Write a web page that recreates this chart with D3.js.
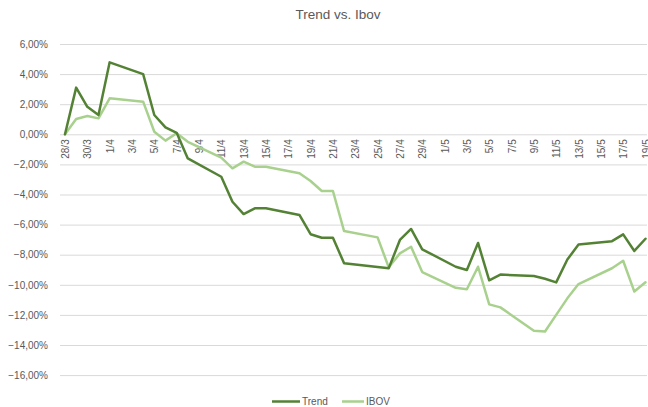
<!DOCTYPE html>
<html><head><meta charset="utf-8">
<script src="https://cdn.jsdelivr.net/npm/d3@7"></script>
<style>body{margin:0;background:#fff}svg{display:block}</style>
</head><body>
<svg id="chart" width="648" height="407"></svg>
<script>
const dates = ["2022-03-28","2022-03-29","2022-03-30","2022-03-31","2022-04-01",
"2022-04-04","2022-04-05","2022-04-06","2022-04-07","2022-04-08",
"2022-04-11","2022-04-12","2022-04-13","2022-04-14","2022-04-15",
"2022-04-18","2022-04-19","2022-04-20","2022-04-21","2022-04-22",
"2022-04-25","2022-04-26","2022-04-27","2022-04-28","2022-04-29",
"2022-05-02","2022-05-03","2022-05-04","2022-05-05","2022-05-06",
"2022-05-09","2022-05-10","2022-05-11","2022-05-12","2022-05-13",
"2022-05-16","2022-05-17","2022-05-18","2022-05-19"];
const trend = [0,3.10,1.83,1.28,4.78,
4.00,1.28,0.46,0.10,-1.60,
-2.82,-4.48,-5.30,-4.92,-4.92,
-5.36,-6.64,-6.87,-6.87,-8.57,
-8.82,-8.90,-7.02,-6.29,-7.64,
-8.80,-9.02,-7.22,-9.70,-9.32,
-9.42,-9.60,-9.84,-8.32,-7.33,
-7.10,-6.65,-7.75,-6.94];
const ibov = [0,1.02,1.22,1.06,2.39,
2.17,0.17,-0.42,0.07,-0.50,
-1.55,-2.26,-1.82,-2.15,-2.15,
-2.59,-3.10,-3.77,-3.77,-6.43,
-6.85,-8.84,-7.91,-7.47,-9.15,
-10.20,-10.30,-8.80,-11.30,-11.50,
-13.05,-13.10,-12.00,-10.90,-9.95,
-8.90,-8.40,-10.45,-9.83];
const tickDates = ["2022-03-28","2022-03-30","2022-04-01","2022-04-03","2022-04-05","2022-04-07",
"2022-04-09","2022-04-11","2022-04-13","2022-04-15","2022-04-17","2022-04-19","2022-04-21",
"2022-04-23","2022-04-25","2022-04-27","2022-04-29","2022-05-01","2022-05-03","2022-05-05",
"2022-05-07","2022-05-09","2022-05-11","2022-05-13","2022-05-15","2022-05-17","2022-05-19"];
const tickLabels = ["28/3","30/3","1/4","3/4","5/4","7/4","9/4","11/4","13/4","15/4","17/4","19/4","21/4",
"23/4","25/4","27/4","29/4","1/5","3/5","5/5","7/5","9/5","11/5","13/5","15/5","17/5","19/5"];
const yTicks = [6,4,2,0,-2,-4,-6,-8,-10,-12,-14,-16];
const seriesNames = ["Trend","IBOV"];
const colors = ["#548235","#A9D18E"];

const parse = d3.utcParse("%Y-%m-%d");
const svg = d3.select("#chart");
const font = "'Liberation Sans', Arial, sans-serif";
const txt = "#595959";

const x = d3.scaleUtc().domain([parse(dates[0]), parse(dates[dates.length-1])]).range([65, 645.5]);
const y = d3.scaleLinear().domain([-16, 6]).range([375.1, 44]);
const gridX0 = 60, gridX1 = 647;

// title
svg.append("text").attr("x", 338).attr("y", 19).attr("text-anchor","middle")
  .attr("font-family", font).attr("font-size", 13.5).attr("fill", txt).text("Trend vs. Ibov");

// y axis via d3 axis, styled as gridlines
const yAxis = d3.axisLeft(y).tickValues(yTicks)
  .tickSize(-(gridX1-gridX0)).tickPadding(12)
  .tickFormat(d => d3.format(".2f")(d).replace(".", ",") + "%");
const gy = svg.append("g").attr("transform", `translate(${gridX0},0)`).call(yAxis);
gy.select(".domain").remove();
gy.selectAll(".tick line").attr("stroke", "#d9d9d9").attr("stroke-width", 1);
gy.selectAll(".tick text").attr("font-family", font).attr("font-size", 10).attr("fill", txt);

// x axis labels (at 0 line)
const xAxis = d3.axisBottom(x).tickValues(tickDates.map(parse)).tickSize(0)
  .tickFormat((d,i) => tickLabels[i]);
const gx = svg.append("g").attr("transform", `translate(0,${y(0)})`).call(xAxis);
gx.select(".domain").remove();
gx.selectAll(".tick text").attr("font-family", font).attr("font-size", 10).attr("fill", txt)
  .attr("transform", "rotate(-90)").attr("text-anchor", "end")
  .attr("x", -5).attr("y", 0).attr("dy", "0.35em");

// lines
const data = [trend, ibov];
const line = d3.line().x((d,i) => x(parse(dates[i]))).y(d => y(d));
[1,0].forEach(k => {
  svg.append("path").datum(data[k]).attr("d", line)
    .attr("fill","none").attr("stroke", colors[k]).attr("stroke-width", 2.5)
    .attr("stroke-linejoin","round").attr("stroke-linecap","round");
});

// legend
const legendItems = [{x:272, w:28}, {x:342, w:22}];
seriesNames.forEach((name, k) => {
  const g = svg.append("g");
  g.append("line").attr("x1", legendItems[k].x).attr("x2", legendItems[k].x + legendItems[k].w)
    .attr("y1", 401.5).attr("y2", 401.5).attr("stroke", colors[k]).attr("stroke-width", 2.5);
  g.append("text").attr("x", legendItems[k].x + legendItems[k].w + 2).attr("y", 401.5).attr("dy","0.35em")
    .attr("font-family", font).attr("font-size", 10).attr("fill", txt).text(name);
});
</script>
</body></html>
